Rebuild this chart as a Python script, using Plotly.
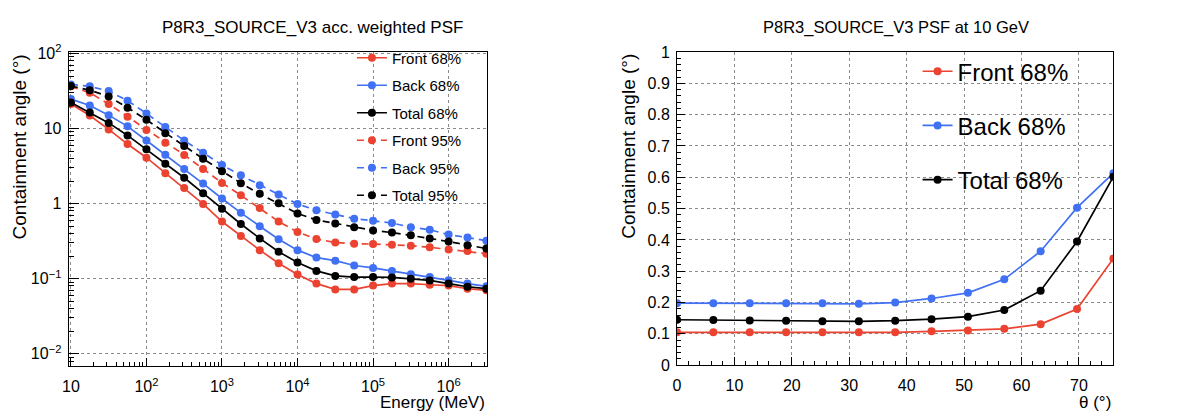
import plotly.graph_objects as go

W, H = 1178, 420
FONT = "Liberation Sans, Arial, Helvetica, sans-serif"

# ---------------- data ----------------
energy_mev = [10, 17.78, 31.62, 56.23, 100, 177.8, 316.2, 562.3, 1000, 1778, 3162, 5623,
              10000, 17783, 31623, 56234, 100000, 177828, 316228, 562341, 1000000, 1778279, 3162278]
front68 = [21.3, 14.9, 9.75, 6.22, 4.09, 2.53, 1.61, 0.99, 0.578, 0.369, 0.24, 0.161,
           0.114, 0.086, 0.072, 0.072, 0.081, 0.086, 0.086, 0.083, 0.081, 0.0735, 0.070]
back68 = [24.7, 20.3, 15.1, 10.7, 6.93, 4.47, 2.90, 1.85, 1.17, 0.753, 0.50, 0.335,
          0.24, 0.191, 0.174, 0.15, 0.139, 0.127, 0.115, 0.105, 0.095, 0.086, 0.079]
total68 = [22.2, 16.4, 11.9, 8.1, 5.3, 3.4, 2.21, 1.38, 0.855, 0.535, 0.344, 0.229,
           0.164, 0.127, 0.109, 0.105, 0.105, 0.104, 0.0995, 0.0948, 0.086, 0.078, 0.0735]
front95 = [36.5, 30.0, 21.3, 14.4, 9.57, 6.47, 4.46, 2.90, 1.89, 1.29, 0.872, 0.578,
           0.419, 0.338, 0.303, 0.292, 0.289, 0.283, 0.275, 0.262, 0.245, 0.233, 0.215]
back95 = [38.7, 36.5, 31.6, 23.5, 15.9, 10.5, 6.93, 4.78, 3.26, 2.39, 1.76, 1.32,
          0.99, 0.814, 0.717, 0.631, 0.59, 0.551, 0.485, 0.449, 0.387, 0.355, 0.321]
total95 = [36.9, 32.5, 26.7, 19.0, 13.1, 8.68, 5.87, 3.97, 2.69, 1.87, 1.35, 1.01,
           0.738, 0.607, 0.545, 0.485, 0.44, 0.411, 0.38, 0.344, 0.312, 0.278, 0.252]

theta_deg = [0, 6.33, 12.67, 19.0, 25.33, 31.67, 38.0, 44.33, 50.67, 57.0, 63.33, 69.67, 76.0]
front68_10gev = [0.105, 0.105, 0.105, 0.105, 0.105, 0.105, 0.105, 0.108, 0.111, 0.116, 0.131, 0.179, 0.341]
back68_10gev = [0.198, 0.198, 0.198, 0.198, 0.198, 0.196, 0.200, 0.213, 0.231, 0.274, 0.364, 0.503, 0.613]
total68_10gev = [0.145, 0.144, 0.143, 0.142, 0.140, 0.140, 0.142, 0.147, 0.155, 0.176, 0.238, 0.395, 0.602]

log_ticks = [10, 100, 1000, 10000, 100000, 1000000]
log_ticktext = ["10", "10<sup>2</sup>", "10<sup>3</sup>", "10<sup>4</sup>", "10<sup>5</sup>", "10<sup>6</sup>"]
ylog_ticks = [0.01, 0.1, 1, 10, 100]
ylog_ticktext = ["10<sup>\u22122</sup>", "10<sup>\u22121</sup>", "1", "10", "10<sup>2</sup>"]
lin_xticks = [0, 10, 20, 30, 40, 50, 60, 70]
lin_yticks = [0, 0.1, 0.2, 0.3, 0.4, 0.5, 0.6, 0.7, 0.8, 0.9, 1.0]
lin_yticktext = ["0", "0.1", "0.2", "0.3", "0.4", "0.5", "0.6", "0.7", "0.8", "0.9", "1"]

RED = "#ec4331"
BLUE = "#4070f4"
BLACK = "#000000"
DASH = "7px,5px"


def px(x):
    return x / W


def py(y):
    return 1 - y / H


# frame positions (pixels)
L_X0, L_X1, L_Y0, L_Y1 = 62, 483, 44, 373
R_X0, R_X1, R_Y0, R_Y1 = 674, 1113, 44, 372

fig = go.Figure()

left_series = [
    ("Front 68%", front68, RED, "solid"),
    ("Back 68%", back68, BLUE, "solid"),
    ("Total 68%", total68, BLACK, "solid"),
    ("Front 95%", front95, RED, DASH),
    ("Back 95%", back95, BLUE, DASH),
    ("Total 95%", total95, BLACK, DASH),
]
for i, (name, vals, col, dash) in enumerate(left_series):
    fig.add_trace(go.Scatter(
        x=energy_mev, y=vals, name=name, mode="lines+markers",
        line=dict(color=col, width=1.7, dash=dash),
        marker=dict(color=col, size=8, symbol="circle"),
        xaxis="x", yaxis="y", legend="legend", legendgroup="L%d" % i,
    ))

right_series = [
    ("Front 68%", front68_10gev, RED),
    ("Back 68%", back68_10gev, BLUE),
    ("Total 68%", total68_10gev, BLACK),
]
for i, (name, vals, col) in enumerate(right_series):
    fig.add_trace(go.Scatter(
        x=theta_deg, y=vals, name=name, mode="lines+markers",
        line=dict(color=col, width=1.7),
        marker=dict(color=col, size=8, symbol="circle"),
        xaxis="x2", yaxis="y2", legend="legend2", legendgroup="R%d" % i,
    ))

grid = dict(showgrid=True, gridcolor="#8a8a8a", griddash="dot", gridwidth=1)
frame = dict(showline=True, linecolor="black", linewidth=1, mirror=True, zeroline=False,
             ticks="inside", tickcolor="black", tickwidth=1,
             tickfont=dict(family=FONT, size=16, color="black"))

minor_x_log = [m * 10 ** e for e in range(0, 7) for m in range(2, 10)]
minor_y_log = [m * 10 ** e for e in range(-3, 3) for m in range(2, 10)]

fig.update_layout(
    width=W, height=H,
    margin=dict(l=0, r=0, t=0, b=0),
    paper_bgcolor="white", plot_bgcolor="white",
    font=dict(family=FONT, color="black"),
    xaxis=dict(domain=[px(L_X0), px(L_X1)], anchor="y", type="log", range=[0.97, 6.51],
               tickmode="array", tickvals=log_ticks, ticktext=log_ticktext, ticklen=8,
               ticklabelstandoff=6,
               minor=dict(tickmode="array", tickvals=minor_x_log, ticks="inside", ticklen=4,
                          tickcolor="black", showgrid=False),
               **grid, **frame),
    yaxis=dict(domain=[py(L_Y1), py(L_Y0)], anchor="x", type="log", range=[-2.165, 2.02],
               tickmode="array", tickvals=ylog_ticks, ticktext=ylog_ticktext, ticklen=10,
               ticklabelstandoff=3,
               minor=dict(tickmode="array", tickvals=minor_y_log, ticks="inside", ticklen=5,
                          tickcolor="black", showgrid=False),
               **grid, **frame),
    xaxis2=dict(domain=[px(R_X0), px(R_X1)], anchor="y2", range=[0, 76],
                tickmode="array", tickvals=lin_xticks, ticklen=8,
                ticklabelstandoff=6,
                minor=dict(dtick=2, ticks="inside", ticklen=4, tickcolor="black", showgrid=False),
                **grid, **frame),
    yaxis2=dict(domain=[py(R_Y1), py(R_Y0)], anchor="x2", range=[0, 1],
                tickmode="array", tickvals=lin_yticks, ticktext=lin_yticktext, ticklen=8,
                ticklabelstandoff=3,
                minor=dict(dtick=0.02, ticks="inside", ticklen=4, tickcolor="black", showgrid=False),
                **grid, **frame),
    legend=dict(x=px(347), y=py(33), xanchor="left", yanchor="top",
                bgcolor="rgba(255,255,255,0)", borderwidth=0,
                font=dict(family=FONT, size=15, color="black"),
                traceorder="grouped", tracegroupgap=5, itemwidth=30),
    legend2=dict(x=px(916), y=py(41), xanchor="left", yanchor="top",
                 bgcolor="rgba(255,255,255,0)", borderwidth=0,
                 font=dict(family=FONT, size=24, color="black"),
                 traceorder="grouped", tracegroupgap=20, itemwidth=30),
    showlegend=True,
    annotations=[
        dict(text="P8R3_SOURCE_V3 acc. weighted PSF", x=px(307), y=py(18), xref="paper", yref="paper",
             showarrow=False, xanchor="center", yanchor="middle",
             font=dict(family=FONT, size=17, color="black")),
        dict(text="P8R3_SOURCE_V3 PSF at 10 GeV", x=px(894), y=py(18), xref="paper", yref="paper",
             showarrow=False, xanchor="center", yanchor="middle",
             font=dict(family=FONT, size=16.5, color="black")),
        dict(text="Containment angle (\u00b0)", x=px(13), y=py(44), xref="paper", yref="paper",
             showarrow=False, xanchor="center", yanchor="top", textangle=-90,
             font=dict(family=FONT, size=19, color="black")),
        dict(text="Containment angle (\u00b0)", x=px(625), y=py(44), xref="paper", yref="paper",
             showarrow=False, xanchor="center", yanchor="top", textangle=-90,
             font=dict(family=FONT, size=19, color="black")),
        dict(text="Energy (MeV)", x=px(L_X1), y=py(411), xref="paper", yref="paper",
             showarrow=False, xanchor="right", yanchor="middle",
             font=dict(family=FONT, size=17, color="black")),
        dict(text="\u03b8 (\u00b0)", x=px(R_X1), y=py(411), xref="paper", yref="paper",
             showarrow=False, xanchor="right", yanchor="middle",
             font=dict(family=FONT, size=17, color="black")),
    ],
)

fig.write_html("out.html")
